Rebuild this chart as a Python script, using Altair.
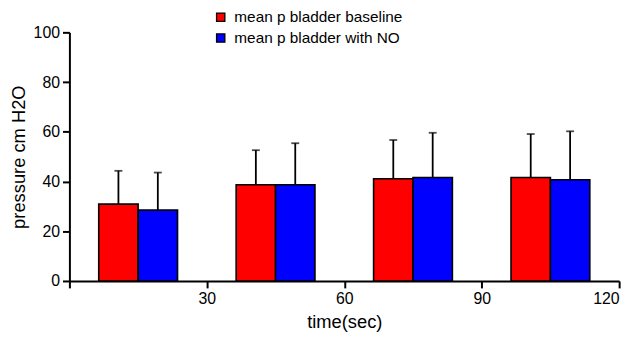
import altair as alt
import pandas as pd

# Data
time_centers = [15, 45, 75, 105]
series_names = ["mean p bladder baseline", "mean p bladder with NO"]
baseline_mean = [30.9, 38.7, 41.1, 41.6]
baseline_top = [44.3, 52.6, 56.7, 59.1]
no_mean = [28.5, 38.7, 41.6, 40.7]
no_top = [43.6, 55.4, 59.6, 60.2]
x_ticks = [0, 30, 60, 90, 120]
y_ticks = [0, 20, 40, 60, 80, 100]
colors = ["#ff0000", "#0000ff"]

bar_w = 8.6  # bar width in time units

rows = []
for i, c in enumerate(time_centers):
    rows.append(dict(series=series_names[0], x0=c - bar_w, x1=c, xm=c - bar_w / 2,
                     mean=baseline_mean[i], top=baseline_top[i]))
    rows.append(dict(series=series_names[1], x0=c, x1=c + bar_w, xm=c + bar_w / 2,
                     mean=no_mean[i], top=no_top[i]))
df = pd.DataFrame(rows)

xscale = alt.Scale(domain=[0, 120], nice=False, zero=False, padding=0)
yscale = alt.Scale(domain=[0, 100], nice=False, padding=0)

base = alt.Chart(df)

bars = base.mark_bar(stroke="black", strokeWidth=1.6).encode(
    x=alt.X("x0:Q", scale=xscale, title="time(sec)",
            axis=alt.Axis(values=x_ticks, labelExpr="datum.value == 0 ? '' : datum.label",
                          grid=False, offset=0)),
    x2="x1:Q",
    y=alt.Y("mean:Q", scale=yscale, title="pressure cm H2O",
            axis=alt.Axis(values=y_ticks, grid=False, offset=0)),
    y2=alt.datum(0),
    color=alt.Color("series:N", scale=alt.Scale(domain=series_names, range=colors),
                    legend=alt.Legend(title=None, orient="none", legendX=145, legendY=-23,
                                      symbolType="square", symbolSize=70,
                                      symbolStrokeColor="black", symbolStrokeWidth=1.3,
                                      symbolOpacity=1, labelLimit=0,
                                      labelFontSize=15.5, labelFont="Liberation Sans",
                                      labelColor="black", rowPadding=4, padding=0,
                                      labelOffset=6)),
)

err = base.mark_rule(color="black", strokeWidth=1.8).encode(
    x="xm:Q", y="mean:Q", y2="top:Q"
)
caps = base.mark_tick(color="black", orient="horizontal", size=8, thickness=1.8).encode(
    x="xm:Q", y="top:Q"
)

chart = alt.layer(err, bars, caps).properties(
    width=555, height=251,
    autosize=alt.AutoSizeParams(type="none"),
    padding={"left": 62, "top": 23, "right": 14, "bottom": 56},
    background="white",
).configure_view(stroke=None).configure_axis(
    domainColor="black", domainWidth=2, tickColor="black", tickWidth=2, tickSize=7,
    labelFont="Liberation Sans", labelFontSize=16, labelColor="black",
    titleFont="Liberation Sans", titleFontSize=18.5, titleFontWeight="normal", titleColor="black",
    labelPadding=3,
).configure_axisY(titlePadding=5).configure_axisX(titlePadding=6)

chart.save("out.html", embed_options={"renderer": "svg", "actions": False})
